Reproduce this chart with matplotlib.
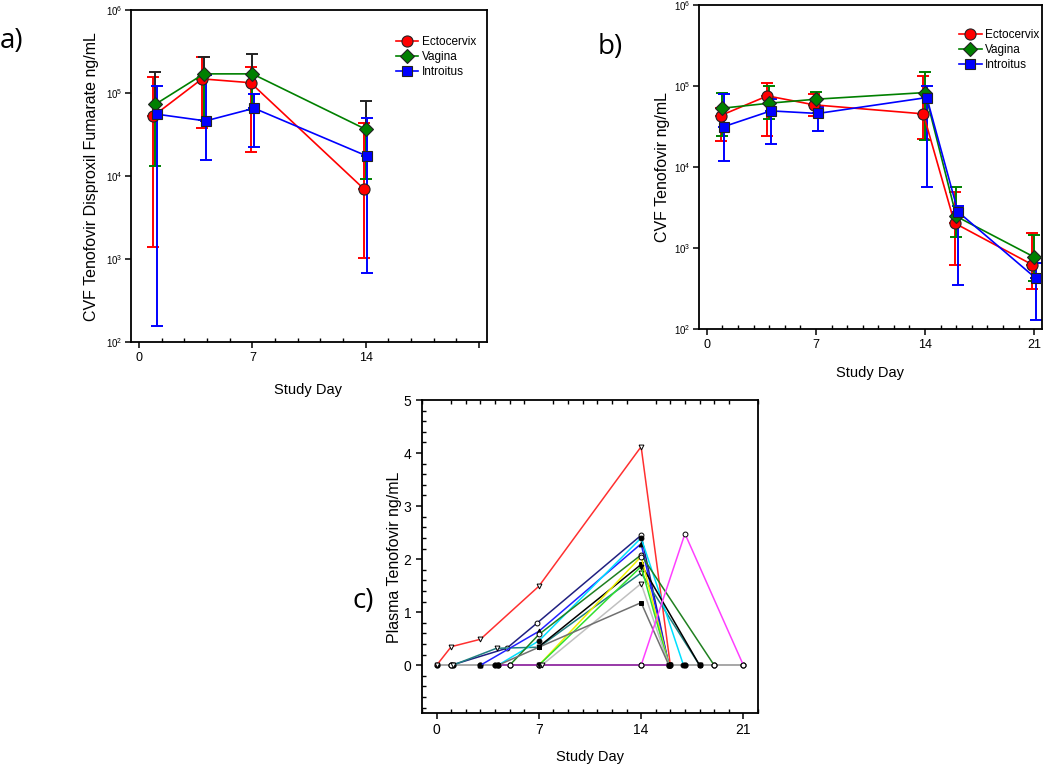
import matplotlib
matplotlib.use("Agg")
import matplotlib.pyplot as plt
from matplotlib.lines import Line2D
from matplotlib.ticker import MultipleLocator, FixedLocator, NullLocator, LogFormatterSciNotation
import numpy as np

# ---------------- data ----------------
series_names = ["Ectocervix", "Vagina", "Introitus"]

# Panel a: CVF Tenofovir Disoproxil Fumarate
days_a = [1, 4, 7, 14]
ecto_a = [53000, 148000, 133000, 7000]
ecto_a_lo = [1380, 37700, 19400, 1015]
ecto_a_hi = [155000, 274000, 204000, 43000]
vag_a = [73000, 170000, 170000, 36600]
vag_a_lo = [13100, 47000, 62000, 9250]
vag_a_hi = [178000, 272000, 295000, 79000]
intro_a = [55500, 46100, 65500, 17300]
intro_a_lo = [155, 15500, 22600, 677]
intro_a_hi = [123000, 165000, 96600, 50000]

# Panel b: CVF Tenofovir
days_b = [1, 4, 7, 14, 16, 21]
ecto_b = [43200, 75500, 58500, 45300, 2030, 620]
ecto_b_lo = [21200, 23800, 43000, 22200, 610, 311]
ecto_b_hi = [54000, 110000, 79000, 133000, 4850, 1530]
vag_b = [53200, 61300, 68700, 83000, 2460, 773]
vag_b_lo = [24200, 38900, 52000, 21600, 1350, 394]
vag_b_hi = [81500, 101000, 83800, 149000, 5640, 1430]
intro_b = [31600, 49300, 45800, 72000, 2800, 422]
intro_b_lo = [12000, 19500, 27900, 5700, 352, 130]
intro_b_hi = [80500, 70000, 55700, 100000, 3320, 651]

# Panel c: plasma tenofovir, individual participants
c_base_days = [0, 1, 1.1, 3, 4, 4.2, 5, 7, 14, 15.9, 16, 17, 18, 19, 21]
c_base_vals = [0, 0, 0, 0, 0, 0, 0, 0, 0, 0, 0, 0, 0, 0, 0]
c_purple_days = [4.2, 7, 14, 16]
c_purple_vals = [0, 0, 0, 0]
c_red_days = [0, 1, 3, 7, 14, 16]
c_red_vals = [0, 0.35, 0.49, 1.49, 4.12, 0]
c_navy_days = [1, 4.8, 6.85, 14, 15.9]
c_navy_vals = [0, 0.32, 0.79, 2.45, 0]
c_teal_days = [1.1, 4.1, 7, 14, 18]
c_teal_vals = [0, 0.32, 0.34, 1.74, 0]
c_blue_days = [3, 7, 14, 15.9]
c_blue_vals = [0, 0.64, 2.29, 0]
c_cyan_days = [4.2, 7, 14, 16.9]
c_cyan_vals = [0, 0.46, 2.40, 0]
c_dkgreen_days = [5, 7, 14, 19]
c_dkgreen_vals = [0, 0.58, 2.08, 0]
c_black_days = [7, 14, 18]
c_black_vals = [0.35, 1.90, 0]
c_yellow_days = [7, 14, 15.9]
c_yellow_vals = [0, 2.05, 0]
c_lime_days = [7, 14, 15.9]
c_lime_vals = [0, 1.86, 0]
c_ltgray_days = [7.2, 14, 15.9]
c_ltgray_vals = [0, 1.54, 0]
c_dkgray_days = [4.2, 7, 14, 15.9]
c_dkgray_vals = [0, 0.34, 1.18, 0]
c_magenta_days = [14, 17, 21]
c_magenta_vals = [0, 2.48, 0]

# ---------------- style ----------------
SANS = ["Liberation Sans", "DejaVu Sans"]
plt.rcParams["font.family"] = SANS

W, H = 1050, 766
fig = plt.figure(figsize=(W / 100, H / 100), dpi=100)


def px_axes(l, t, r, b):
    return fig.add_axes([l / W, 1 - b / H, (r - l) / W, (b - t) / H])


ax_a = px_axes(131, 10, 487, 342)
ax_b = px_axes(699, 5, 1042, 329)
ax_c = px_axes(422, 400, 758, 713)

colors = ["#ff0000", "#008000", "#0000ff"]
markers = ["o", "D", "s"]
msizes = [8, 7, 7]


def draw_log_panel(ax, days, means, los, his, upper_colors, xminor):
    offsets = [-0.11, 0.0, 0.11]
    for i in range(3):
        x = np.array(days, dtype=float) + offsets[i]
        m = np.array(means[i], dtype=float)
        lo = np.array(los[i], dtype=float)
        hi = np.array(his[i], dtype=float)
        ax.errorbar(x, m, yerr=[m - lo, np.zeros_like(m)], fmt="none",
                    ecolor=colors[i], elinewidth=1.4, capsize=4, capthick=1.4, zorder=2)
        ax.errorbar(x, m, yerr=[np.zeros_like(m), hi - m], fmt="none",
                    ecolor=upper_colors[i], elinewidth=1.4, capsize=4, capthick=1.4, zorder=2)
    for i in range(3):
        x = np.array(days, dtype=float) + offsets[i]
        ax.plot(x, means[i], color=colors[i], lw=1.2, marker=markers[i], ms=msizes[i],
                mfc=colors[i], mec="#222222", mew=0.8, zorder=3 + i)
    ax.set_yscale("log")
    ax.set_ylim(1e2, 1e6)
    ax.set_xlim(-0.5, 21.5)
    ax.yaxis.set_major_locator(FixedLocator([1e2, 1e3, 1e4, 1e5, 1e6]))
    ax.yaxis.set_minor_locator(NullLocator())
    ax.yaxis.set_major_formatter(LogFormatterSciNotation())
    ax.xaxis.set_minor_locator(MultipleLocator(xminor))
    for s in ax.spines.values():
        s.set_linewidth(1.3)
    ax.tick_params(axis="both", which="major", direction="out", length=4, width=1.1,
                   labelsize=9)
    ax.tick_params(axis="y", which="major", labelsize=7, pad=2)
    ax.tick_params(axis="x", which="minor", direction="in", length=3, width=1.0)
    handles = [Line2D([], [], color=colors[i], lw=1.2, marker=markers[i], ms=msizes[i],
                      mfc=colors[i], mec="#222222", mew=0.8) for i in range(3)]
    return handles


# Panel a
h = draw_log_panel(ax_a, days_a, [ecto_a, vag_a, intro_a],
                   [ecto_a_lo, vag_a_lo, intro_a_lo], [ecto_a_hi, vag_a_hi, intro_a_hi],
                   ["#ff0000", "#222222", "#0000ff"], 1.4)
ax_a.set_xticks([0, 7, 14, 21])
ax_a.set_xticklabels(["0", "7", "14", ""])
ax_a.legend(h, series_names, loc="upper left", bbox_to_anchor=(0.73, 0.935),
            frameon=False, fontsize=8.5, handlelength=1.9, labelspacing=0.25,
            handletextpad=0.3, borderaxespad=0)

# Panel b
h = draw_log_panel(ax_b, days_b, [ecto_b, vag_b, intro_b],
                   [ecto_b_lo, vag_b_lo, intro_b_lo], [ecto_b_hi, vag_b_hi, intro_b_hi],
                   colors, 1.0)
ax_b.set_xticks([0, 7, 14, 21])
ax_b.set_xticklabels(["0", "7", "14", "21"])
ax_b.legend(h, series_names, loc="upper left", bbox_to_anchor=(0.745, 0.94),
            frameon=False, fontsize=8.5, handlelength=1.9, labelspacing=0.25,
            handletextpad=0.3, borderaxespad=0)

# Panel c
ax_c.plot(c_base_days, c_base_vals, color="#a0a0a0", lw=1.3, marker="o", ms=3.5,
          mfc="black", mec="black", zorder=2)
ax_c.plot(c_purple_days, c_purple_vals, color="#9933aa", lw=1.3, zorder=2)
subjects = [
    (c_red_days, c_red_vals, "#ff3030", "v", "white"),
    (c_navy_days, c_navy_vals, "#202080", "o", "white"),
    (c_teal_days, c_teal_vals, "#208080", "v", "white"),
    (c_blue_days, c_blue_vals, "#2020ff", "^", "black"),
    (c_cyan_days, c_cyan_vals, "#00e0ff", "o", "black"),
    (c_dkgreen_days, c_dkgreen_vals, "#208020", "o", "white"),
    (c_black_days, c_black_vals, "#000000", "s", "black"),
    (c_yellow_days, c_yellow_vals, "#f0f000", "o", "white"),
    (c_lime_days, c_lime_vals, "#30e030", "v", "black"),
    (c_ltgray_days, c_ltgray_vals, "#c0c0c0", "v", "white"),
    (c_dkgray_days, c_dkgray_vals, "#707070", "s", "black"),
    (c_magenta_days, c_magenta_vals, "#ff40ff", "o", "white"),
]
for d, v, col, mk, mf in subjects:
    ax_c.plot(d, v, color=col, lw=1.1, marker=mk, ms=3.5, mfc=mf, mec="black",
              mew=0.7, zorder=3)
ax_c.set_xlim(-1, 22)
ax_c.set_ylim(-0.9, 5)
ax_c.set_xticks([0, 7, 14, 21])
ax_c.set_yticks([0, 1, 2, 3, 4, 5])
ax_c.xaxis.set_minor_locator(MultipleLocator(1))
ax_c.yaxis.set_minor_locator(MultipleLocator(0.2))
for s in ax_c.spines.values():
    s.set_linewidth(1.3)
ax_c.tick_params(axis="both", which="major", direction="out", length=4, width=1.1,
                 labelsize=10)
ax_c.tick_params(axis="both", which="minor", direction="in", length=3, width=1.0,
                 top=True)

# Axis titles
fig.text(92 / W, 1 - 177 / H, "CVF Tenofovir Disproxil Fumarate ng/mL", rotation=90,
         ha="center", va="center", fontsize=11.5)
fig.text(663 / W, 1 - 167 / H, "CVF Tenofovir ng/mL", rotation=90,
         ha="center", va="center", fontsize=11.5)
fig.text(395 / W, 1 - 557 / H, "Plasma Tenofovir ng/mL", rotation=90,
         ha="center", va="center", fontsize=11.5)
fig.text(308 / W, 1 - 390 / H, "Study Day", ha="center", va="center", fontsize=10.5)
fig.text(870 / W, 1 - 373 / H, "Study Day", ha="center", va="center", fontsize=10.5)
fig.text(590 / W, 1 - 757 / H, "Study Day", ha="center", va="center", fontsize=10.5)

# Panel letters
LETTER_FONT = ["Open Sans", "DejaVu Sans"]
fig.text(0 / W, 1 - 41 / H, "a)", ha="left", va="center", fontsize=20, family=LETTER_FONT)
fig.text(598 / W, 1 - 47 / H, "b)", ha="left", va="center", fontsize=20, family=LETTER_FONT)
fig.text(352 / W, 1 - 601 / H, "c)", ha="left", va="center", fontsize=20, family=LETTER_FONT)

fig.savefig("out.png", dpi=100)
